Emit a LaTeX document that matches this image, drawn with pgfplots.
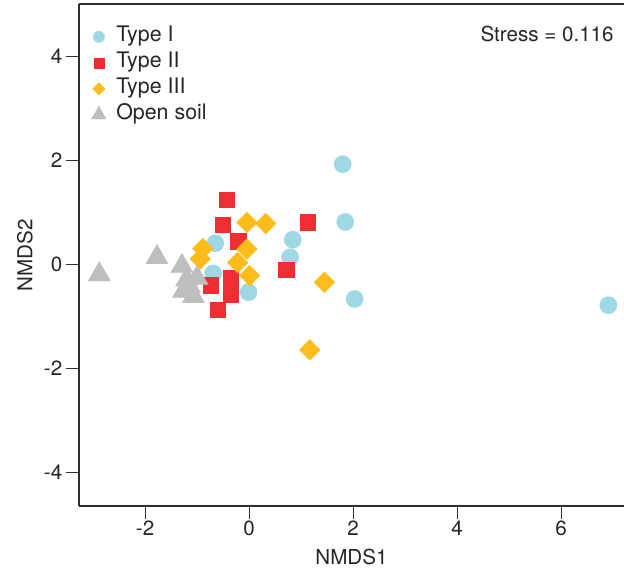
\documentclass[border=0pt]{standalone}
\usepackage{pgfplots}
\pgfplotsset{compat=1.18}
\usepackage{fontspec}
\setmainfont{TeX Gyre Heros}
\definecolor{c1}{RGB}{158,216,228}
\definecolor{c2}{RGB}{238,46,50}
\definecolor{c3}{RGB}{254,188,26}
\definecolor{c4}{RGB}{190,190,190}
\definecolor{axc}{RGB}{45,45,45}
\newcommand{\lfont}{\fontsize{10.3}{12}\selectfont}
\newcommand{\gfont}{\fontsize{10.7}{12}\selectfont}
\begin{document}
\begin{tikzpicture}[font=\lfont]
\begin{axis}[
  scale only axis, width=272.5pt, height=251pt,
  xmin=-3.27, xmax=7.21, ymin=-4.65, ymax=5.0,
  axis x line*=box, axis y line*=left,
  axis line style={axc, line width=0.6pt},
  tick style={axc, line width=0.5pt},
  tick align=outside, tick pos=left,
  major tick length=6.5pt,
  xtick={-2,0,2,4,6}, ytick={-4,-2,0,2,4},
  /pgf/number format/assume math mode=true,
  ticklabel style={font=\lfont, inner sep=0pt, text=black!85},
  xticklabel shift=0.8pt, yticklabel shift=1.65pt,
  xlabel={NMDS1}, ylabel={NMDS2},
  xlabel style={font=\lfont, text=black!85, at={(axis description cs:0.5,0)}, anchor=base, yshift=-29.25pt},
  ylabel style={font=\lfont, text=black!85, at={(axis description cs:-0.0855,0.5)}, anchor=base},
  legend style={draw=none, fill=none, at={(axis description cs:0,1)}, anchor=north west,
    xshift=6pt, yshift=-10.1pt, inner sep=0pt, font=\gfont, text=black!85,
    nodes={inner sep=1pt, text height=7.7pt, text depth=2.5pt}, row sep=0.8pt,
    /tikz/every odd column/.append style={column sep=4pt}},
  legend cell align=left,
  legend image code/.code={\draw[#1, mark repeat=2, mark phase=2] plot coordinates {(-4pt,0pt) (0pt,0pt) (4pt,0pt)};},
]
\addplot[only marks, mark=*, color=c1, mark size=4.35pt, line width=0.1pt,
  legend image post style={mark size=2.9pt}] coordinates {
(1.80,1.92) (1.85,0.81) (-0.65,0.40) (0.84,0.47) (0.79,0.13)
(-0.69,-0.18) (-0.01,-0.54) (2.03,-0.67) (6.91,-0.79)
};
\addlegendentry{Type I}
\addplot[only marks, mark=square*, color=c2, mark size=3.85pt, line width=0.1pt,
  legend image post style={mark size=2.5pt}] coordinates {
(-0.43,1.24) (-0.51,0.76) (-0.21,0.44) (1.12,0.81) (0.71,-0.11)
(-0.74,-0.40) (-0.35,-0.27) (-0.35,-0.58) (-0.60,-0.88)
};
\addlegendentry{Type II}
\addplot[only marks, mark=square*, color=c3, mark size=3.7pt, line width=0.1pt,
  mark options={rotate=45},
  legend image post style={mark size=2.2pt}] coordinates {
(-0.04,0.80) (0.32,0.78) (-0.89,0.30) (-0.94,0.10) (-0.04,0.29)
(-0.22,0.03) (0.01,-0.22) (1.45,-0.35) (1.17,-1.65)
};
\addlegendentry{Type III}
\addplot[only marks, mark=triangle*, color=c4, mark size=6.5pt, line width=0.1pt,
  legend image post style={mark size=4.3pt}] coordinates {
(-2.88,-0.20) (-1.77,0.13) (-1.29,-0.04) (-1.00,-0.27) (-1.20,-0.30)
(-1.15,-0.42) (-1.26,-0.52) (-1.07,-0.62)
};
\addlegendentry{Open soil}
\node[anchor=base east, inner sep=0pt, text=black!85] at (axis description cs:0.9817,0.9249) {Stress = 0.116};
\end{axis}
\pgfresetboundingbox
\path[use as bounding box] ([xshift=-39.5pt,yshift=-32pt]current axis.south west) rectangle ([yshift=2pt]current axis.north east);
\end{tikzpicture}
\end{document}
